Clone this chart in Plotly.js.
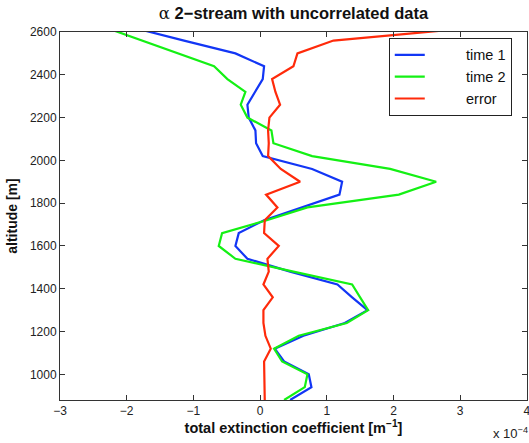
<!DOCTYPE html>
<html>
<head>
<meta charset="utf-8">
<script src="https://cdn.plot.ly/plotly-3.0.1.min.js"></script>
<style>html,body{margin:0;padding:0;background:#fff;overflow:hidden;}#chart{width:529px;height:443px;}</style>
</head>
<body>
<div id="chart"></div>
<script>
// altitude [m]
var altitude = [880, 940, 1000, 1060, 1120, 1180, 1240, 1300, 1360, 1420, 1480, 1540, 1600, 1660, 1720,
                1780, 1840, 1900, 1960, 2020, 2080, 2140, 2200, 2260, 2320, 2380, 2440, 2500, 2560, 2620];
// total extinction coefficient, in units of 1e-4 m^-1
var time1 = [0.45, 0.77, 0.73, 0.36, 0.22, 0.65, 1.27, 1.61, 1.38, 1.16, 0.45, -0.19, -0.37, -0.32, 0.06,
             0.61, 1.19, 1.23, 0.78, 0.04, -0.06, -0.07, -0.17, -0.19, -0.08, 0.04, 0.06, -0.37, -1.14, -1.90];
var time2 = [0.36, 0.67, 0.71, 0.33, 0.21, 0.58, 1.30, 1.62, 1.50, 1.38, 0.50, -0.37, -0.62, -0.57, 0.10,
             0.71, 2.08, 2.64, 1.95, 0.78, 0.20, 0.17, -0.19, -0.29, -0.22, -0.49, -0.69, -1.24, -1.77, -2.31];
var error = [0.07, 0.07, 0.06, 0.06, 0.16, 0.08, 0.05, 0.05, 0.19, 0.05, 0.13, 0.11, 0.28, 0.06, 0.07,
             0.26, 0.09, 0.60, 0.31, 0.12, 0.13, 0.12, 0.14, 0.30, 0.23, 0.18, 0.50, 0.56, 1.10, 3.20];
var seriesNames = ['time 1', 'time 2', 'error'];
var yTicks = [1000, 1200, 1400, 1600, 1800, 2000, 2200, 2400, 2600];
var xTicks = [-3, -2, -1, 0, 1, 2, 3, 4];

var font = 'Liberation Sans, Arial, Helvetica, sans-serif';
var colors = ['#1236f5', '#14f014', '#ff2a0a'];
var pad = '\u00a0\u00a0\u00a0\u00a0\u00a0\u00a0\u00a0\u00a0\u00a0';
var data = [time1, time2, error].map(function (v, i) {
  return {
    x: v, y: altitude, type: 'scatter', mode: 'lines', name: pad + seriesNames[i],
    line: {color: colors[i], width: 2.2}
  };
});

var layout = {
  width: 529, height: 443,
  margin: {l: 60, r: 2, t: 32, b: 43},
  paper_bgcolor: '#fff', plot_bgcolor: '#fff',
  font: {family: font, size: 12, color: '#222'},
  showlegend: true,
  title: {
    text: '<span style="font-family:DejaVu Serif;font-weight:normal">α</span> 2−stream with uncorrelated data',
    font: {family: font, size: 16.5, weight: 'bold', color: '#111'},
    x: 0.5, xref: 'paper', y: 0.971, yref: 'container', yanchor: 'middle'
  },
  xaxis: {
    range: [-3, 4.002], tickvals: xTicks, ticks: 'inside', ticklen: 5, tickcolor: '#333',
    showline: true, linecolor: '#333', linewidth: 1, mirror: 'ticks', ticklabeloverflow: 'allow',
    showgrid: false, zeroline: false, tickfont: {size: 12, color: '#222'},
    title: {text: 'total extinction coefficient [m<sup>−1</sup>]', font: {size: 14.5, weight: 'bold', color: '#111'}, standoff: 5}
  },
  yaxis: {
    range: [880, 2600], tickvals: yTicks, ticks: 'inside', ticklen: 5, tickcolor: '#333',
    showline: true, linecolor: '#333', linewidth: 1, mirror: 'ticks',
    showgrid: false, zeroline: false, tickfont: {size: 12, color: '#222'},
    title: {text: 'altitude [m]', font: {size: 14, weight: 'bold', color: '#111'}, standoff: 8}
  },
  legend: {
    x: 0.704, y: 0.984, xanchor: 'left', yanchor: 'top',
    bgcolor: '#fff', bordercolor: '#222', borderwidth: 1,
    font: {size: 14.5, color: '#111'}, tracegroupgap: 0, entrywidth: 124, entrywidthmode: 'pixels'
  },
  annotations: [{
    text: 'x 10<sup>−4</sup>', xref: 'paper', yref: 'paper', x: 1.006, y: -0.09,
    xanchor: 'right', yanchor: 'middle', showarrow: false, font: {size: 13, color: '#222'}
  }]
};

Plotly.newPlot('chart', data, layout, {displayModeBar: false, staticPlot: true});
</script>
</body>
</html>
